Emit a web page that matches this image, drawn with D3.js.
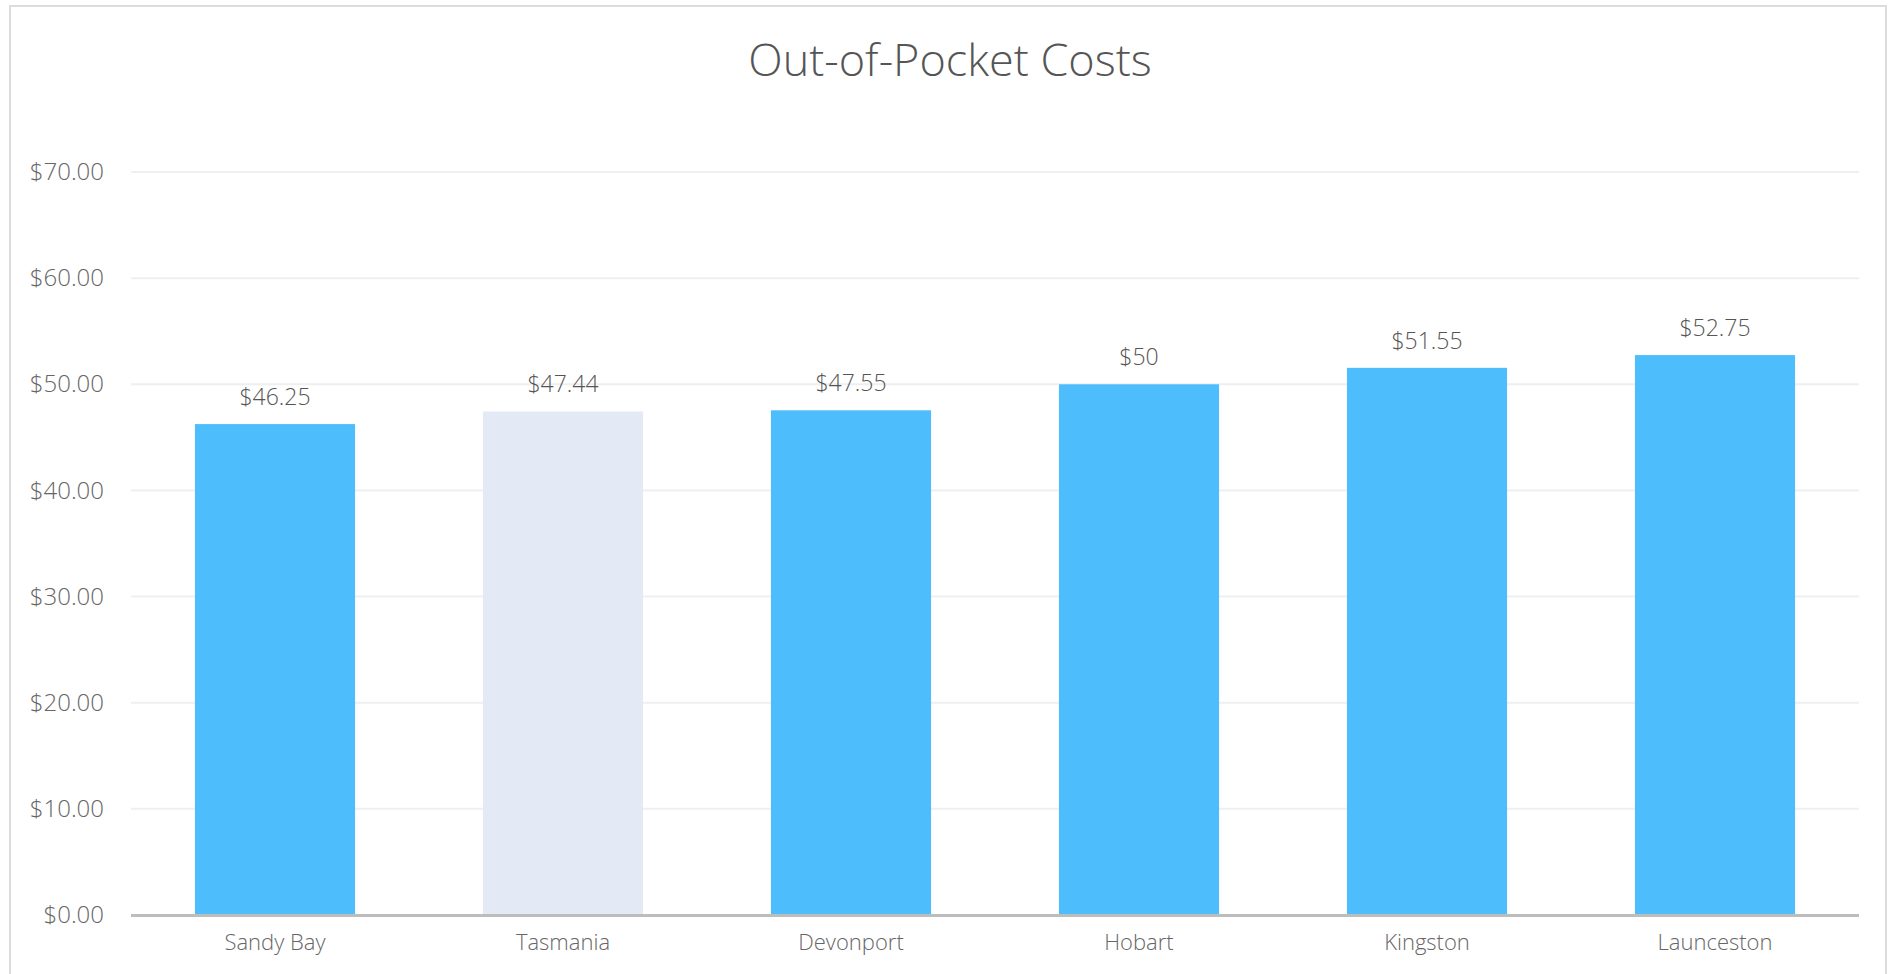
<!DOCTYPE html>
<html>
<head>
<meta charset="utf-8">
<script src="https://cdn.jsdelivr.net/npm/d3@7"></script>
<style>
  html, body { margin: 0; padding: 0; background: #fff; overflow: hidden; }
  text { font-family: "Open Sans", "Noto Sans", sans-serif; font-weight: 300; }
</style>
</head>
<body>
<div id="chart"></div>
<script>
// chart data
const categories = ["Sandy Bay", "Tasmania", "Devonport", "Hobart", "Kingston", "Launceston"];
const values = [46.25, 47.44, 47.55, 50, 51.55, 52.75];
const highlighted = ["Tasmania"];
const yTicks = [0, 10, 20, 30, 40, 50, 60, 70];

const W = 1890, H = 974;
const margin = { top: 172, right: 31, bottom: 59, left: 131 };
const width = W - margin.left - margin.right;
const height = H - margin.top - margin.bottom;

const svg = d3.select("#chart").append("svg")
  .attr("width", W)
  .attr("height", H);

// outer frame
svg.append("rect")
  .attr("x", 10).attr("y", 6)
  .attr("width", 1876).attr("height", 1000)
  .attr("fill", "none")
  .attr("stroke", "#dcdcdc")
  .attr("stroke-width", 2);

svg.append("text")
  .attr("x", 950)
  .attr("y", 76)
  .attr("text-anchor", "middle")
  .style("font-size", "45px")
  .style("fill", "#555")
  .text("Out-of-Pocket Costs");

const g = svg.append("g")
  .attr("transform", `translate(${margin.left},${margin.top})`);

const x = d3.scaleBand()
  .domain(categories)
  .range([0, width])
  .paddingInner(0.444)
  .paddingOuter(0.222);

const y = d3.scaleLinear()
  .domain([0, 70])
  .range([height, 0]);

// gridlines
g.append("g")
  .selectAll("line")
  .data(yTicks.filter(d => d > 0))
  .join("line")
  .attr("x1", 0)
  .attr("x2", width)
  .attr("y1", d => y(d))
  .attr("y2", d => y(d))
  .attr("stroke", "#efefef")
  .attr("stroke-width", 2);

// y axis labels
const yAxis = d3.axisLeft(y)
  .tickValues(yTicks)
  .tickSize(0)
  .tickPadding(27)
  .tickFormat(d => "$" + d3.format(".2f")(d));

g.append("g")
  .call(yAxis)
  .call(s => s.select(".domain").remove())
  .selectAll("text")
  .style("font-size", "24px")
  .style("font-family", "'Open Sans', sans-serif")
  .style("font-weight", 300)
  .style("fill", "#666");

// bars
g.selectAll(".bar")
  .data(categories)
  .join("rect")
  .attr("class", "bar")
  .attr("x", d => x(d))
  .attr("width", x.bandwidth())
  .attr("y", (d, i) => y(values[i]))
  .attr("height", (d, i) => height - y(values[i]))
  .attr("fill", d => highlighted.includes(d) ? "#e3e9f5" : "#4dbdfc");

// value labels
g.selectAll(".val")
  .data(categories)
  .join("text")
  .attr("class", "val")
  .attr("x", d => x(d) + x.bandwidth() / 2)
  .attr("y", (d, i) => y(values[i]) - 19)
  .attr("text-anchor", "middle")
  .style("font-size", "23px")
  .style("fill", "#555")
  .text((d, i) => "$" + values[i]);

// x axis
const xAxis = d3.axisBottom(x).tickSize(0).tickPadding(19);
g.append("g")
  .attr("transform", `translate(0,${height})`)
  .call(xAxis)
  .call(s => s.select(".domain").remove())
  .selectAll("text")
  .style("font-size", "22px")
  .style("font-family", "'Open Sans', sans-serif")
  .style("font-weight", 300)
  .style("fill", "#666");

g.append("line")
  .attr("x1", 0).attr("x2", width)
  .attr("y1", height + 0.5).attr("y2", height + 0.5)
  .attr("stroke", "#bdbdbd")
  .attr("stroke-width", 3);
</script>
</body>
</html>
